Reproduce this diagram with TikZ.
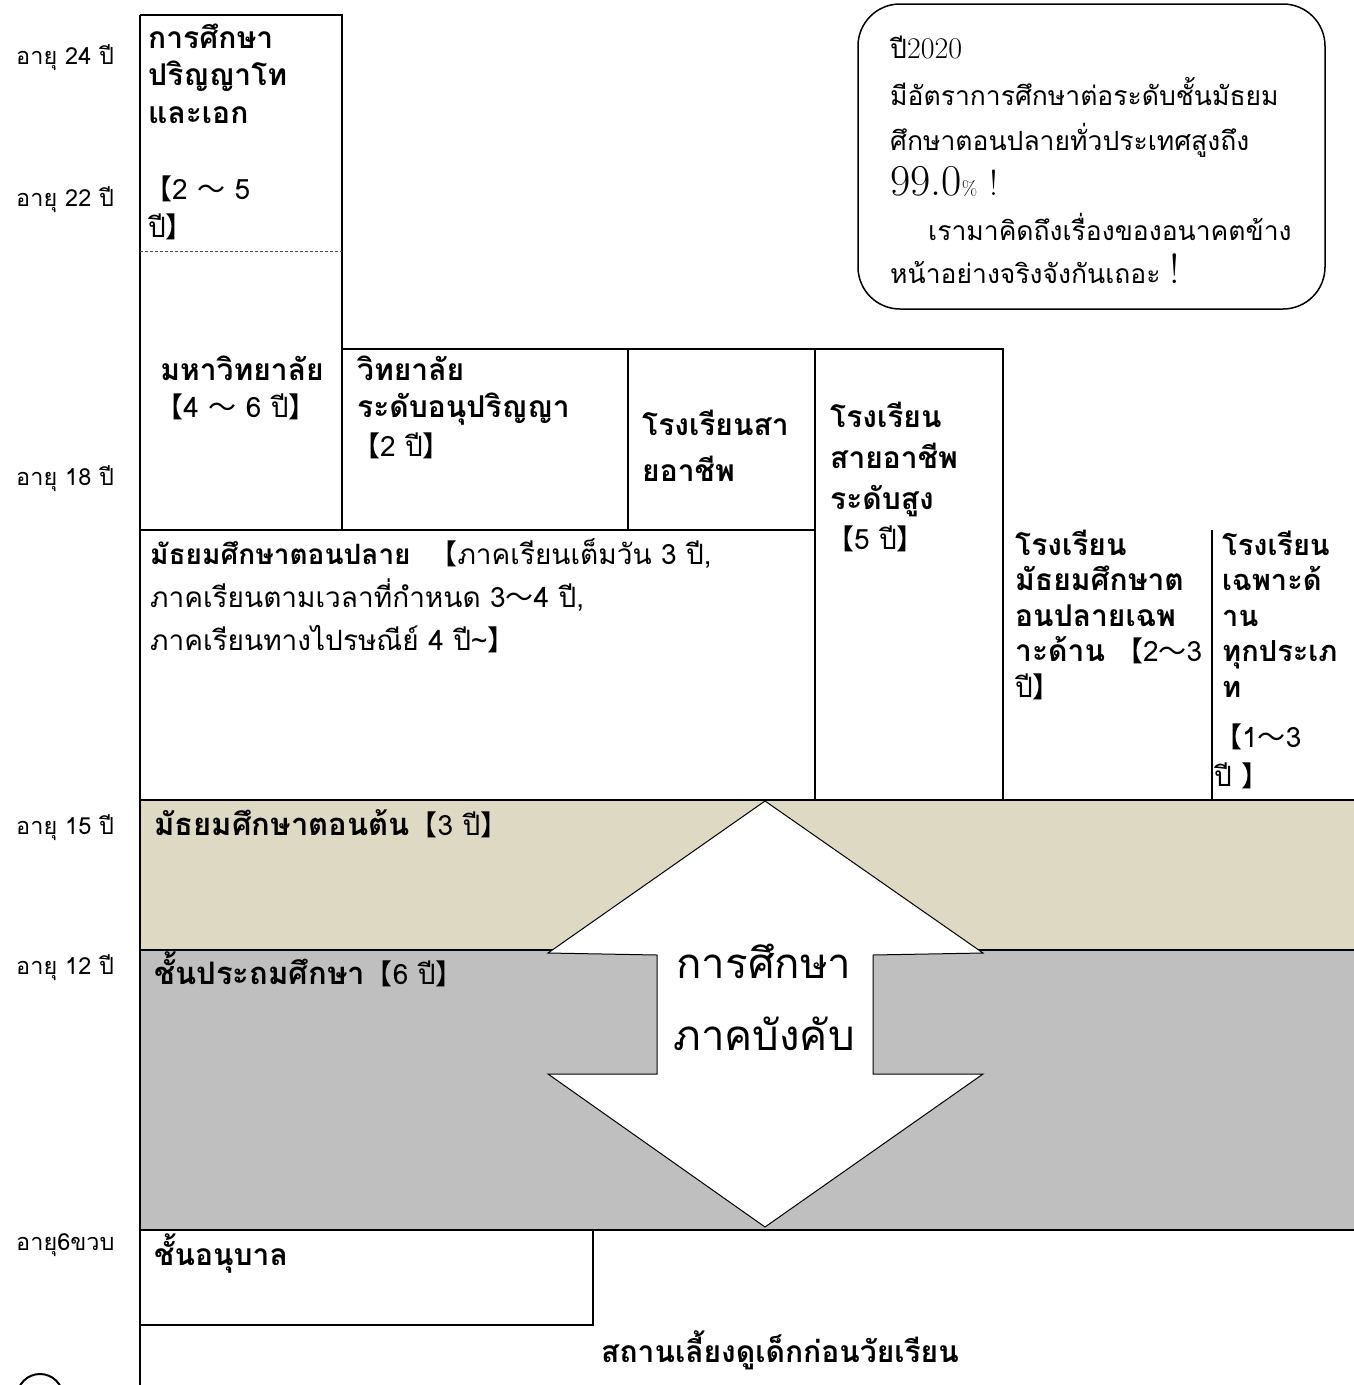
\documentclass[tikz,border=0pt]{standalone}
\usepackage{fontspec}
\newfontfamily\thai[Script=Thai]{Loma}
\newfontfamily\cjk{Noto Sans CJK SC}
\newcommand\LBk{{\cjk 【}}
\newcommand\RBk{{\cjk 】}}
\newcommand\TLd{{\cjk ～}}
\newcommand\ML[1]{\vtop{\lineskiplimit=-100pt\halign{##\hfil\cr#1\crcr}}}
\definecolor{beigeband}{HTML}{DDD9C3}
\definecolor{grayband}{HTML}{BFBFBF}
\begin{document}
\begin{tikzpicture}[x=1pt,y=-1pt,
  ln/.style={line width=2pt},
  lbl/.style={font=\thai\fontsize{23.5}{26}\selectfont, anchor=base west, inner sep=0pt},
  hd/.style={font=\thai\bfseries\fontsize{30}{37.5}\selectfont, anchor=base west, inner sep=0pt},
  hdc/.style={hd, anchor=base},
  tx/.style={font=\thai\fontsize{28}{43}\selectfont, anchor=base west, inner sep=0pt},
  big/.style={font=\thai\fontsize{42}{65}\selectfont, anchor=base, inner sep=0pt},
  ctx/.style={font=\thai\fontsize{26.5}{45}\selectfont, anchor=base west, inner sep=0pt},
  callout/.style={draw, line width=1.5pt, rounded corners=42pt}]
\useasboundingbox (0,0) rectangle (1354,1385);
% bands
\fill[beigeband] (140,800) rectangle (1354,950);
\fill[grayband] (140,950) rectangle (1354,1230);
% frame lines
\draw[ln] (140,15) -- (140,1385);
\draw[ln] (140,15) -- (342,15) -- (342,530);
\draw[line width=1pt, dash pattern=on 3pt off 2pt, black!70] (140,251) -- (342,251);
\draw[ln] (342,349) -- (1003,349) -- (1003,800);
\draw[ln] (628,349) -- (628,530);
\draw[ln] (815,349) -- (815,800);
\draw[ln] (140,530) -- (815,530);
\draw[ln] (1212,530) -- (1212,800);
\draw[ln] (140,800) -- (1354,800);
\draw[ln] (140,950) -- (1354,950);
\draw[ln] (140,1230) -- (1354,1230);
\draw[ln] (593,1230) -- (593,1325) -- (140,1325);
% double arrow
\filldraw[fill=white, line width=1pt, line join=miter]
  (765,801) -- (983,953) -- (873,955) -- (873,1074) -- (983,1074) -- (765,1227)
  -- (548,1074) -- (657,1074) -- (657,955) -- (548,953) -- cycle;
% callout
\draw[callout] (858,4) rectangle (1325,309);
% partial circle
\draw[ln] (40,1397) circle[radius=23];

% age labels
\node[lbl] (a24) at (16,64) {อายุ 24 ปี};
\node[lbl] (a22) at (16,206) {อายุ 22 ปี};
\node[lbl] (a18) at (16,485) {อายุ 18 ปี};
\node[lbl] (a15) at (16,834) {อายุ 15 ปี};
\node[lbl] (a12) at (16,974) {อายุ 12 ปี};
\node[lbl] (a6) at (16,1250) {อายุ6ขวบ};

% graduate
\node[hd] (grad) at (148,48) {\ML{การศึกษา\cr ปริญญาโท\cr และเอก}};
\node[tx] (gradyr) at (144,199) {\LBk 2 \TLd{} 5};
\node[tx] (gradyr2) at (148,237) {ปี\RBk};
% university
\node[hdc] (univ) at (242,380) {มหาวิทยาลัย};
\node[tx, anchor=base] (univyr) at (236,417) {\LBk 4 \TLd{} 6 ปี\RBk};
% junior college
\node[hd] (jc) at (357,380) {\ML{วิทยาลัย\cr ระดับอนุปริญญา}};
\node[tx] (jcyr) at (352,456) {\LBk 2 ปี\RBk};
% vocational
\node[hd, font=\thai\bfseries\fontsize{30}{46}\selectfont] (voc) at (642,435) {\ML{โรงเรียนสา\cr ยอาชีพ}};
% college of technology
\node[hd, font=\thai\bfseries\fontsize{30}{41}\selectfont] (tech) at (830,427) {\ML{โรงเรียน\cr สายอาชีพ\cr ระดับสูง}};
\node[tx] (techyr) at (826,549) {\LBk 5 ปี\RBk};
% upper secondary
\node[tx] (upper) at (150,564) {\ML{{\bfseries มัธยมศึกษาตอนปลาย}~~\LBk ภาคเรียนเต็มวัน 3 ปี,\cr
 ภาคเรียนตามเวลาที่กำหนด 3\TLd 4 ปี,\cr
 ภาคเรียนทางไปรษณีย์ 4 ปี\char`\~\RBk}};
% specialized upper secondary
\node[hd, font=\thai\bfseries\fontsize{30}{35.5}\selectfont] (spec) at (1015,555) {\ML{โรงเรียน\cr มัธยมศึกษาต\cr อนปลายเฉพ\cr าะด้าน {\mdseries\fontsize{28}{35.5}\selectfont\LBk 2\TLd 3}\cr {\mdseries\fontsize{28}{35.5}\selectfont ปี\RBk}}};
% miscellaneous schools
\node[hd, font=\thai\bfseries\fontsize{29}{35.5}\selectfont] (misc) at (1222,555) {\ML{โรงเรียน\cr เฉพาะด้\cr าน\cr ทุกประเภ\cr ท}};
\node[tx] (miscyr) at (1214,747) {\LBk 1\TLd 3};
\node[tx] (miscyr2) at (1214,786) {ปี \RBk};
% lower secondary
\node[tx] (lower) at (154,835) {{\bfseries\fontsize{31}{43}\selectfont มัธยมศึกษาตอนต้น}\LBk 3 ปี\RBk};
% primary
\node[tx] (prim) at (154,984) {{\bfseries\fontsize{31}{43}\selectfont ชั้นประถมศึกษา}\LBk 6 ปี\RBk};
% compulsory
\node[big] (comp1) at (764,978) {การศึกษา};
\node[big] (comp2) at (764,1050) {ภาคบังคับ};
% kindergarten
\node[hd] (kg) at (154,1265) {ชั้นอนุบาล};
% nursery
\node[hdc] (nursery) at (780,1362) {สถานเลี้ยงดูเด็กก่อนวัยเรียน};
% callout text
\node[ctx] (c1) at (890,58) {ปี{\rmfamily\fontsize{30}{30}\selectfont 2020}};
\node[ctx] (c2) at (890,105) {\ML{มีอัตราการศึกษาต่อระดับชั้นมัธยม\cr ศึกษาตอนปลายทั่วประเทศสูงถึง}};
\node[ctx] (c3) at (890,195) {{\rmfamily\fontsize{44}{44}\selectfont 99.0}{\rmfamily\fontsize{20}{20}\selectfont\%}\hspace{12pt}{\rmfamily\fontsize{36}{36}\selectfont !}};
\node[ctx] (c4) at (928,240) {เรามาคิดถึงเรื่องของอนาคตข้าง};
\node[ctx] (c5) at (890,283) {หน้าอย่างจริงจังกันเถอะ {\rmfamily\fontsize{42}{42}\selectfont !}};
\end{tikzpicture}
\end{document}
